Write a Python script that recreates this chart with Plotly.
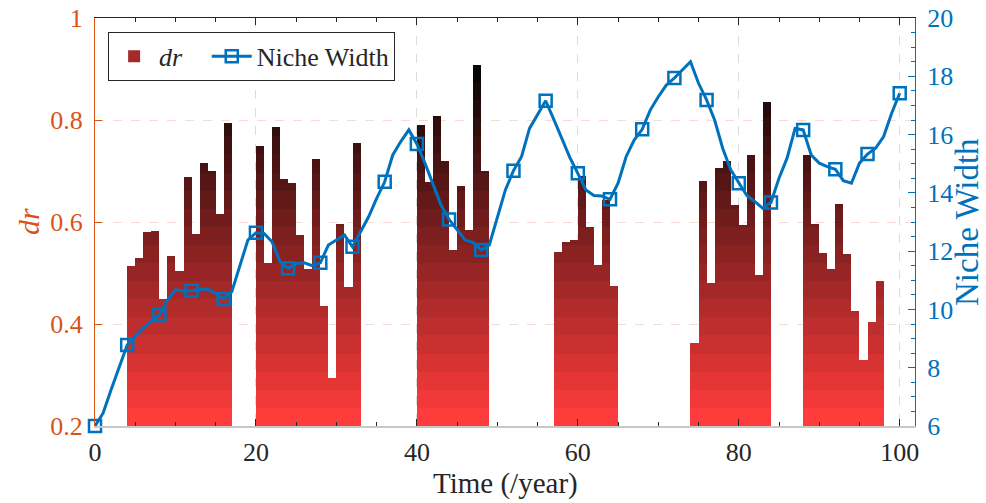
import plotly.graph_objects as go

# ---------------- data ----------------
bar_years = [4, 5, 6, 7, 8, 9, 10, 11, 12, 13, 14, 15, 16,
             20, 21, 22, 23, 24, 25, 26, 27, 28, 29, 30, 31, 32,
             40, 41, 42, 43, 44, 45, 46, 47, 48,
             57, 58, 59, 60, 61, 62, 63, 64,
             74, 75, 76, 77, 78, 79, 80, 81, 82, 83,
             88, 89, 90, 91, 92, 93, 94, 95, 96, 97]
dr_values = [0.514, 0.529, 0.581, 0.583, 0.449, 0.533, 0.503, 0.689, 0.576, 0.716, 0.700, 0.616, 0.794,
             0.749, 0.519, 0.786, 0.684, 0.677, 0.574, 0.507, 0.723, 0.435, 0.294, 0.597, 0.473, 0.754,
             0.791, 0.678, 0.808, 0.720, 0.545, 0.671, 0.584, 0.908, 0.699,
             0.541, 0.561, 0.565, 0.690, 0.590, 0.516, 0.643, 0.475,
             0.362, 0.680, 0.480, 0.705, 0.720, 0.633, 0.593, 0.731, 0.497, 0.835,
             0.731, 0.597, 0.539, 0.507, 0.635, 0.537, 0.425, 0.329, 0.403, 0.484]

niche_years = list(range(0, 101))
niche_width = [6.00, 6.44, 7.24, 8.03, 8.78, 9.09, 9.37, 9.60, 9.81, 10.32,
               10.67, 10.63, 10.64, 10.69, 10.69, 10.55, 10.36, 10.61, 11.47, 12.38,
               12.63, 12.61, 12.32, 11.64, 11.41, 11.58, 11.60, 11.50, 11.60, 12.21,
               12.38, 12.55, 12.15, 12.67, 13.18, 13.81, 14.38, 15.30, 15.76, 16.16,
               15.68, 15.02, 14.27, 13.58, 13.09, 12.73, 12.38, 12.29, 12.04, 12.21,
               13.18, 14.10, 14.76, 15.24, 16.21, 16.67, 17.16, 16.53, 15.87, 15.22,
               14.67, 14.10, 13.91, 13.89, 13.78, 14.33, 15.24, 15.81, 16.18, 16.84,
               17.30, 17.70, 17.94, 18.22, 18.50, 17.76, 17.19, 16.50, 15.53, 14.79,
               14.33, 13.91, 13.70, 13.47, 13.67, 14.50, 15.19, 16.21, 16.16, 15.30,
               15.02, 14.90, 14.81, 14.42, 14.33, 15.02, 15.33, 15.53, 15.93, 16.73,
               17.42]
marker_step = 4

x_ticks = [0, 20, 40, 60, 80, 100]
dr_ticks = [0.2, 0.4, 0.6, 0.8, 1.0]
dr_tick_text = ["0.2", "0.4", "0.6", "0.8", "1"]
nw_ticks = [6, 8, 10, 12, 14, 16, 18, 20]

# ---------------- styling ----------------
FONT = "Liberation Serif, Times New Roman, serif"
ORANGE = "#D95319"
BLUE = "#0072BD"
DARK = "#262626"
BASE = 0.2
N_BANDS = 20
BAND_H = (0.91 - BASE) / N_BANDS
C_LOW = (255, 60, 60)
C_HIGH = (10, 5, 5)


def band_color(k):
    t = k / (N_BANDS - 1)
    c = [round(a + (b - a) * t) for a, b in zip(C_LOW, C_HIGH)]
    return "rgb(%d,%d,%d)" % tuple(c)


fig = go.Figure()

# gradient bars: stacked bands, colour depends on absolute height
seg_x, seg_base, seg_h, seg_c = [], [], [], []
for yr, v in zip(bar_years, dr_values):
    for k in range(N_BANDS):
        lo = BASE + k * BAND_H
        if v <= lo:
            break
        hi = min(v, lo + BAND_H)
        seg_x.append(yr)
        seg_base.append(lo)
        seg_h.append(hi - lo)
        seg_c.append(band_color(k))

fig.add_trace(go.Bar(x=seg_x, y=seg_h, base=seg_base, width=1, offset=0,
                     marker=dict(color=seg_c, line=dict(width=0)),
                     showlegend=False, xaxis="x", yaxis="y", hoverinfo="skip"))

# legend entry for the bars
fig.add_trace(go.Bar(x=[None], y=[None], name="<i>dr</i>   ",
                     marker=dict(color="#A52A2A", line=dict(width=0)),
                     showlegend=True, xaxis="x", yaxis="y"))

# Niche width line
fig.add_trace(go.Scatter(x=niche_years, y=niche_width, mode="lines",
                         line=dict(color=BLUE, width=3), showlegend=False,
                         xaxis="x", yaxis="y2", cliponaxis=False))
fig.add_trace(go.Scatter(x=niche_years[::marker_step], y=niche_width[::marker_step],
                         mode="markers",
                         marker=dict(symbol="square-open", size=12, color=BLUE,
                                     line=dict(width=2.5, color=BLUE)),
                         showlegend=False, xaxis="x", yaxis="y2", cliponaxis=False))
fig.add_trace(go.Scatter(x=[None], y=[None], mode="lines+markers", name="Niche Width",
                         line=dict(color=BLUE, width=3),
                         marker=dict(symbol="square-open", size=12, color=BLUE,
                                     line=dict(width=2.5, color=BLUE)),
                         xaxis="x", yaxis="y2"))
# dummy for top axis
fig.add_trace(go.Scatter(x=[None], y=[None], xaxis="x2", yaxis="y", showlegend=False))

fig.update_layout(
    width=986, height=503,
    margin=dict(l=95, r=71, t=18, b=77, autoexpand=False),
    paper_bgcolor="white", plot_bgcolor="white",
    barmode="overlay", bargap=0,
    font=dict(family=FONT, size=26, color=DARK),
    xaxis=dict(range=[0, 101.9], tickvals=x_ticks, ticks="inside", ticklen=7,
               tickcolor=DARK, tickwidth=1, automargin=False,
               minor=dict(dtick=5, tick0=0, ticks="inside", ticklen=4, tickcolor=DARK,
                          showgrid=False),
               showline=True, linecolor="#c8c8c8", linewidth=1.5,
               showgrid=True, gridcolor="#dcdcdc", griddash="dash", gridwidth=1,
               zeroline=False, tickfont=dict(size=26, color=DARK, family=FONT),
               ticklabelstandoff=2, ticklabeloverflow="allow"),
    xaxis2=dict(range=[0, 101.9], overlaying="x", side="top", anchor="y",
                tickvals=x_ticks, ticks="inside", ticklen=7, tickcolor=DARK,
                automargin=False,
                minor=dict(dtick=5, tick0=0, ticks="inside", ticklen=4, tickcolor=DARK,
                           showgrid=False),
                showticklabels=False, showline=True, linecolor=DARK, linewidth=1,
                showgrid=False, zeroline=False),
    yaxis=dict(range=[0.2, 1.0], tickvals=dr_ticks, ticktext=dr_tick_text,
               ticks="inside", ticklen=7, tickcolor=ORANGE, automargin=False,
               showline=True, linecolor=ORANGE, linewidth=1.2,
               showgrid=True, gridcolor="#f8dccf", griddash="dash", gridwidth=1,
               zeroline=False, tickfont=dict(size=26, color=ORANGE, family=FONT),
               ticklabelstandoff=6, ticklabeloverflow="allow"),
    yaxis2=dict(range=[6, 20], tickvals=nw_ticks, overlaying="y", side="right",
                anchor="x", ticks="inside", ticklen=7, tickcolor=BLUE,
                automargin=False,
                minor=dict(dtick=0.5, tick0=6, ticks="inside", ticklen=4, tickcolor=BLUE,
                           showgrid=False),
                showline=True, linecolor=BLUE, linewidth=1.2,
                showgrid=False, zeroline=False,
                tickfont=dict(size=26, color=BLUE, family=FONT),
                ticklabelstandoff=6, ticklabeloverflow="allow"),
    legend=dict(orientation="h", x=0.016, y=0.966, xanchor="left", yanchor="top",
                bgcolor="white", bordercolor=DARK, borderwidth=1,
                font=dict(size=26, family=FONT, color=DARK),
                traceorder="normal", itemwidth=40, tracegroupgap=0),
    annotations=[
        dict(text="Time (/year)", xref="paper", yref="paper", x=0.5, y=-0.142,
             xanchor="center", yanchor="middle", showarrow=False,
             font=dict(size=29, family=FONT, color=DARK)),
        dict(text="<i>dr</i>", xref="paper", yref="paper", x=-0.0817, y=0.5,
             xanchor="center", yanchor="middle", showarrow=False, textangle=-90,
             font=dict(size=30, family=FONT, color=ORANGE)),
        dict(text="Niche Width", xref="paper", yref="paper", x=1.0634, y=0.5,
             xanchor="center", yanchor="middle", showarrow=False, textangle=-90,
             font=dict(size=33, family=FONT, color=BLUE)),
    ],
)

fig.write_html("out.html",
               config={"displayModeBar": False},
               post_script="document.body.style.margin='0';document.body.style.padding='0';")
